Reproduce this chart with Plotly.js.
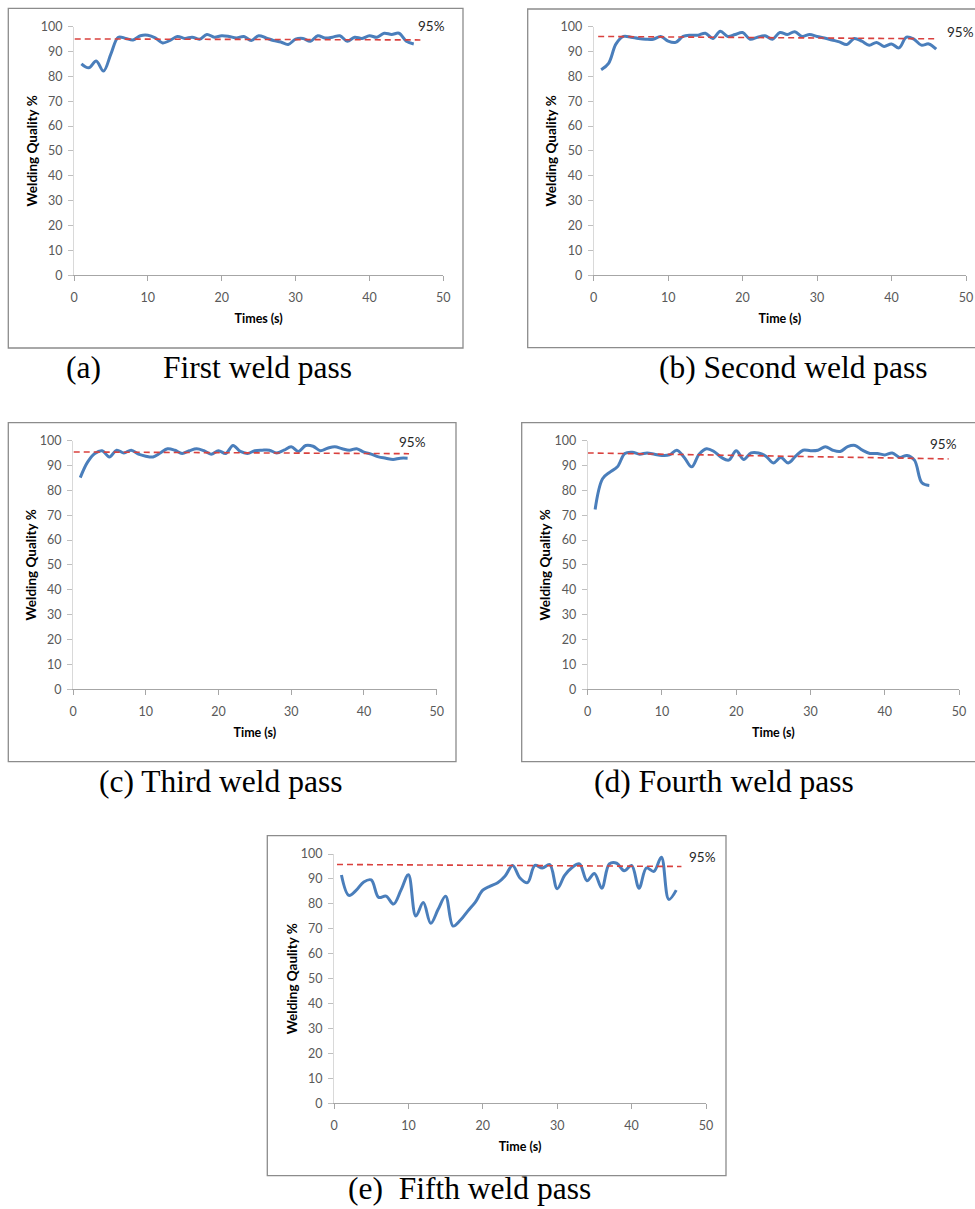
<!DOCTYPE html>
<html><head><meta charset="utf-8">
<script src="https://cdn.plot.ly/plotly-3.0.1.min.js"></script>
<style>html,body{margin:0;padding:0;background:#fff}</style>
</head><body><div id="chart" style="width:975px;height:1209px"></div>
<script>
// ---- data ----
const timeS = [1,2,3,4,5,6,7,8,9,10,11,12,13,14,15,16,17,18,19,20,21,22,23,24,25,26,27,28,29,30,31,32,33,34,35,36,37,38,39,40,41,42,43,44,45,46];
const qualityFirst  = [85.0,83.4,86.1,82.1,89.0,95.7,95.2,94.6,96.3,96.5,95.4,93.4,94.4,96.0,95.2,95.7,94.9,96.8,95.7,96.3,96.0,95.4,96.0,94.4,96.3,95.4,94.4,93.8,92.8,94.9,95.2,94.1,96.3,95.4,95.7,96.3,94.1,95.7,95.2,96.3,95.7,97.3,96.8,97.3,94.1,93.0];
const qualitySecond = [82.6,85.2,93.0,96.0,95.7,95.2,94.9,94.9,96.0,94.1,93.6,96.0,96.5,96.5,97.3,95.2,98.1,96.0,96.8,97.6,94.9,95.7,96.3,94.9,97.6,96.8,97.9,96.0,96.8,96.0,95.4,94.6,93.8,92.8,95.2,94.1,92.5,93.6,92.0,93.0,91.4,95.7,94.9,92.5,93.0,90.9];
const qualityThird  = [85.1,91.3,94.8,95.9,93.4,96.1,95.0,96.1,94.5,93.7,93.4,95.0,96.7,96.1,94.8,95.9,96.7,95.9,94.5,95.9,94.8,98.0,95.6,94.8,95.9,96.1,96.1,95.0,96.1,97.5,95.6,98.0,97.7,95.9,96.9,97.5,96.7,96.1,96.7,95.3,94.5,93.4,92.9,92.4,92.9,92.9];
const qualityFourth = [72.3,84.6,87.3,89.4,94.8,95.3,94.5,95.0,94.5,94.0,94.2,96.1,93.2,89.4,94.5,96.7,95.6,93.2,92.1,95.9,92.4,95.0,95.0,93.7,91.0,93.2,91.0,93.7,96.1,95.9,96.1,97.5,96.1,95.6,97.5,98.0,96.1,94.8,94.8,94.2,95.0,93.2,94.0,92.1,83.0,81.9];
const qualityFifth  = [91.6,83.4,85.5,88.8,89.6,82.6,83.1,79.9,85.5,91.7,75.1,80.5,72.2,77.8,83.1,71.1,73.5,77.2,80.7,85.5,87.1,88.5,91.2,95.4,90.4,88.5,95.4,94.4,95.7,86.1,91.4,94.6,96.0,89.3,92.2,86.3,96.0,96.3,93.3,95.4,86.3,94.4,93.0,98.7,81.8,85.5];

// 95% reference (dashed) lines: [start, end]
const refX1 = [0.1, 46.9],  refY1 = [95.0, 94.6];
const refX2 = [0.6, 46.2],  refY2 = [96.0, 95.05];
const refX3 = [0.1, 46.2],  refY3 = [95.4, 94.7];
const refX4 = [0.0, 48.6],  refY4 = [95.0, 92.6];
const refX5 = [0.4, 46.7],  refY5 = [95.8, 95.0];
const refLabel = '95%';

const xTitles = ['Times (s)', 'Time (s)', 'Time (s)', 'Time (s)', 'Time (s)'];
const yTitles = ['Welding Quality %', 'Welding Quality %', 'Welding Quality %', 'Welding Quality %', 'Welding Qaulity %'];
const captionLetters = ['(a)'];
const captions = ['First weld pass', '(b) Second weld pass', '(c) Third weld pass', '(d) Fourth weld pass', '(e)\u00a0 Fifth weld pass'];
const xTickVals = [0,10,20,30,40,50];
const yTickVals = [0,10,20,30,40,50,60,70,80,90,100];

// ---- layout geometry (pixels) ----
const W = 975, H = 1209;
const fx = p => p / W, fy = p => 1 - p / H;
const panels = [
  {x0:74,    x1:443.3, yT:26.5,  yB:275.3,  frame:[8.3,8.3,463,348],      lab:[431.7,26.2]},
  {x0:593.7, x1:966,   yT:26.5,  yB:275.3,  frame:[527.7,9,980,347.7],    lab:[960,31.7]},
  {x0:73,    x1:436.7, yT:440.5, yB:689.3,  frame:[8.3,422.7,456,761.7],  lab:[412,441.7]},
  {x0:587.7, x1:959,   yT:440.5, yB:689.3,  frame:[521.7,422.7,980,761.7],lab:[943.3,443.8]},
  {x0:334,   x1:706,   yT:854,   yB:1103.3, frame:[267.3,835.7,726,1175.7],lab:[702.8,856.7]}
];
const series = [qualityFirst, qualitySecond, qualityThird, qualityFourth, qualityFifth];
const refs = [[refX1,refY1],[refX2,refY2],[refX3,refY3],[refX4,refY4],[refX5,refY5]];

const tickFont = {family:'Lato, "Open Sans", sans-serif', size:12.5, color:'#595959'};
const xTitleFont = {family:'Lato, "Open Sans", sans-serif', size:12.5, color:'#000', weight:700};
const yTitleFont = {family:'Lato, "Open Sans", sans-serif', size:13.5, color:'#000', weight:700};

const traces = [];
const layout = {
  width: W, height: H, margin:{l:0,r:0,t:0,b:0},
  paper_bgcolor:'#fff', plot_bgcolor:'rgba(0,0,0,0)', showlegend:false,
  shapes:[], annotations:[]
};

panels.forEach((p, i) => {
  const n = i === 0 ? '' : String(i + 1);
  traces.push({
    x: timeS, y: series[i], xaxis:'x'+n, yaxis:'y'+n, type:'scatter', mode:'lines',
    line:{color:'#4A7EBB', width:3, shape:'spline', smoothing:1}, hoverinfo:'skip'
  });
  traces.push({
    x: refs[i][0], y: refs[i][1], xaxis:'x'+n, yaxis:'y'+n, type:'scatter', mode:'lines',
    line:{color:'#D9413E', width:1.6, dash:'6px,4px'}, hoverinfo:'skip'
  });
  layout['xaxis'+n] = {
    domain:[fx(p.x0), fx(p.x1)], anchor:'y'+n, range:[0,50], tickvals:xTickVals,
    ticks:'outside', ticklen:5, tickcolor:'#a6a6a6', showline:true, linecolor:'#a6a6a6', linewidth:1,
    showgrid:false, zeroline:false, tickfont:tickFont, ticklabelstandoff:6,
    title:{text:xTitles[i], font:xTitleFont, standoff:9}, fixedrange:true
  };
  layout['yaxis'+n] = {
    domain:[fy(p.yB), fy(p.yT)], anchor:'x'+n, range:[0,100], tickvals:yTickVals,
    ticks:'outside', ticklen:5, tickcolor:'#bfbfbf', showline:true, linecolor:'#d9d9d9', linewidth:1,
    showgrid:false, zeroline:false, tickfont:tickFont, ticklabelstandoff:3,
    title:{text:yTitles[i], font:yTitleFont, standoff:0}, fixedrange:true
  };
  const f = p.frame;
  layout.shapes.push({type:'rect', xref:'paper', yref:'paper', x0:fx(f[0]), x1:fx(f[2]), y0:fy(f[3]), y1:fy(f[1]),
    line:{color:'#8c8c8c', width:1.3}, fillcolor:'rgba(0,0,0,0)', layer:'below'});
  layout.annotations.push({xref:'paper', yref:'paper', x:fx(p.lab[0]), y:fy(p.lab[1]), xanchor:'center', yanchor:'middle',
    text:refLabel, showarrow:false, font:{family:'Lato, "Open Sans", sans-serif', size:13.5, color:'#262626'}});
});

const capFont = {family:'"Liberation Serif", "Times New Roman", serif', size:31.5, color:'#000'};
const capPos = [[161.7,367],[658.3,367],[98.3,781],[593.3,781],[347.3,1188]];
layout.annotations.push({xref:'paper', yref:'paper', x:fx(65), y:fy(367), xanchor:'left', yanchor:'middle',
  text:captionLetters[0], showarrow:false, font:capFont, borderpad:0});
captions.forEach((c, i) => {
  layout.annotations.push({xref:'paper', yref:'paper', x:fx(capPos[i][0]), y:fy(capPos[i][1]), xanchor:'left', yanchor:'middle',
    text:c, showarrow:false, font:capFont, borderpad:0});
});

Plotly.newPlot('chart', traces, layout, {staticPlot:true, displayModeBar:false});
</script>
</body></html>
